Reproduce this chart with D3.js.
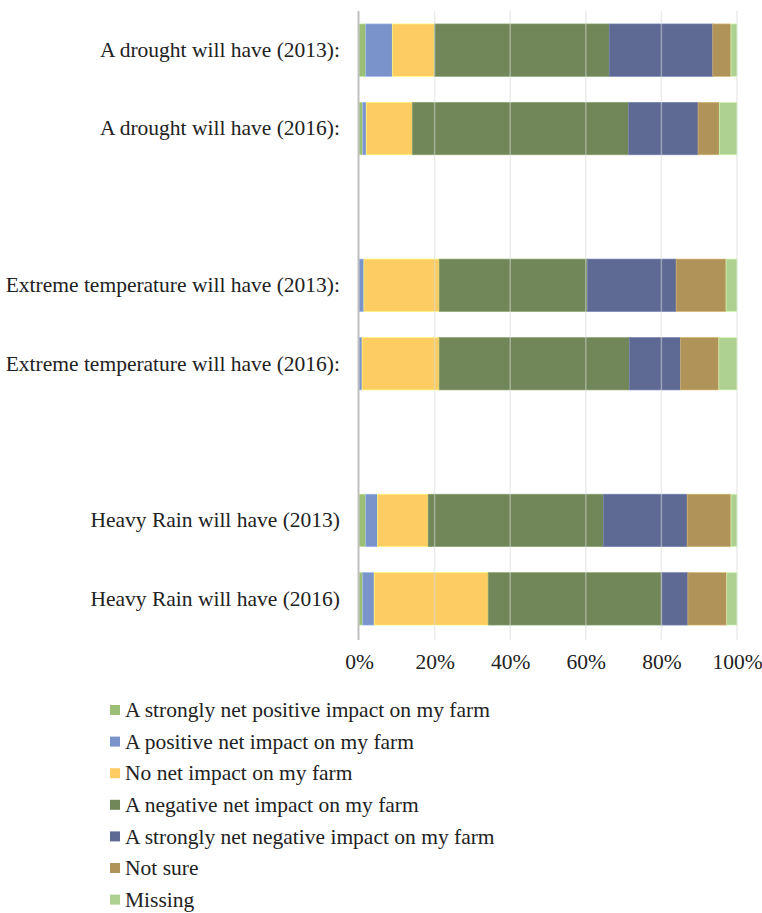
<!DOCTYPE html>
<html>
<head>
<meta charset="utf-8">
<script src="https://cdn.jsdelivr.net/npm/d3@7"></script>
<style>
  html, body { margin: 0; padding: 0; background: #fff; }
  svg { display: block; font-family: "Liberation Serif", "Times New Roman", serif; }
</style>
</head>
<body>
<svg id="chart" width="762" height="913"></svg>
<script>
// Survey rows (blank rows separate the three hazards)
const categories = [
  "A drought will have (2013):",
  "A drought will have (2016):",
  "",
  "Extreme temperature will have (2013):",
  "Extreme temperature will have (2016):",
  " ",
  "Heavy Rain will have (2013)",
  "Heavy Rain will have (2016)"
];

const seriesNames = [
  "A strongly net positive impact on my farm",
  "A positive net impact on my farm",
  "No net impact on my farm",
  "A negative net impact on my farm",
  "A strongly net negative impact on my farm",
  "Not sure",
  "Missing"
];

// Percent of respondents per answer, one array per answer, in row order (null = blank row)
const strongPositive = [1.8, 1.0, null, 0.0, 0.0, null, 1.8, 1.0];
const positive       = [7.0, 0.9, null, 1.3, 0.8, null, 3.1, 3.0];
const noImpact       = [11.1, 12.2, null, 19.9, 20.4, null, 13.4, 30.2];
const negative       = [46.3, 57.3, null, 39.2, 50.3, null, 46.4, 46.0];
const strongNegative = [27.4, 18.4, null, 23.5, 13.6, null, 22.2, 6.9];
const notSure        = [4.8, 5.6, null, 13.2, 10.1, null, 11.6, 10.3];
const missing        = [1.6, 4.7, null, 2.9, 4.8, null, 1.6, 2.7];

const tickValues = [0, 0.2, 0.4, 0.6, 0.8, 1.0];

const colors = ["#9bbf74", "#7b93cb", "#fdcd63", "#71875a", "#5f6a94", "#b09359", "#aed192"];

const seriesValues = [strongPositive, positive, noImpact, negative, strongNegative, notSure, missing];

const svg = d3.select("#chart");
const margin = { left: 359, right: 25, top: 11, bottom: 275 };
const W = 762, H = 913;
const fontSize = 21.5;

const x = d3.scaleLinear().domain([0, 1]).range([margin.left, W - margin.right]);
const y = d3.scaleBand().domain(categories).range([margin.top, H - margin.bottom]).paddingInner(0.33).paddingOuter(0.165);

// Build the stacked table
const rows = categories.map((c, i) => {
  const r = { cat: c };
  seriesNames.forEach((s, k) => { r[s] = seriesValues[k][i] == null ? 0 : seriesValues[k][i]; });
  return r;
});
const totals = rows.map(r => d3.sum(seriesNames, s => r[s]));
const stacked = d3.stack().keys(seriesNames)
  .value((r, key) => { const i = rows.indexOf(r); return totals[i] ? r[key] / totals[i] : 0; })(rows);

// Stacked bars
const g = svg.append("g");
stacked.forEach((layer, k) => {
  g.selectAll(null).data(layer.filter((d, i) => totals[i] > 0)).join("rect")
    .attr("x", d => x(d[0]))
    .attr("width", d => Math.max(0, x(d[1]) - x(d[0])))
    .attr("y", d => y(d.data.cat))
    .attr("height", y.bandwidth())
    .attr("fill", colors[k])
    .attr("stroke", d3.color(colors[k]).brighter(0.6))
    .attr("stroke-width", 0.6);
});

// Light vertical grid drawn across the plot
const plotTop = margin.top, plotBottom = H - margin.bottom + 2;
svg.append("g").selectAll("line").data(tickValues.slice(1)).join("line")
  .attr("x1", d => x(d)).attr("x2", d => x(d))
  .attr("y1", plotTop).attr("y2", plotBottom)
  .attr("stroke", "#d9d9d9").attr("stroke-opacity", 0.5).attr("stroke-width", 1.5);

// Category axis (left)
svg.append("line")
  .attr("x1", x(0) - 0.5).attr("x2", x(0) - 0.5)
  .attr("y1", plotTop).attr("y2", plotBottom)
  .attr("stroke", "#bfbfbf").attr("stroke-width", 2);

const yAxis = d3.axisLeft(y).tickSize(0).tickPadding(19)
  .tickFormat(d => d.trim());
const yg = svg.append("g").attr("transform", `translate(${x(0)},0)`).call(yAxis);
yg.select(".domain").remove();
yg.selectAll("text").attr("font-size", fontSize).attr("fill", "#222")
  .attr("font-family", "Liberation Serif, serif");

// Value axis (bottom)
const xAxis = d3.axisBottom(x).tickValues(tickValues).tickSize(0).tickPadding(14)
  .tickFormat(d3.format(".0%"));
const xg = svg.append("g").attr("transform", `translate(0,${plotBottom})`).call(xAxis);
xg.select(".domain").remove();
xg.selectAll("text").attr("font-size", fontSize).attr("fill", "#222")
  .attr("font-family", "Liberation Serif, serif");

// Legend
const legend = svg.append("g").attr("transform", "translate(110,710)");
const item = legend.selectAll("g").data(seriesNames).join("g")
  .attr("transform", (d, i) => `translate(0,${i * 31.6})`);
item.append("rect").attr("x", 0).attr("y", -5).attr("width", 10).attr("height", 10)
  .attr("fill", (d, i) => colors[i]);
item.append("text").attr("x", 15).attr("y", 0).attr("dy", "0.33em")
  .attr("font-size", fontSize).attr("fill", "#222").text(d => d);
</script>
</body>
</html>
